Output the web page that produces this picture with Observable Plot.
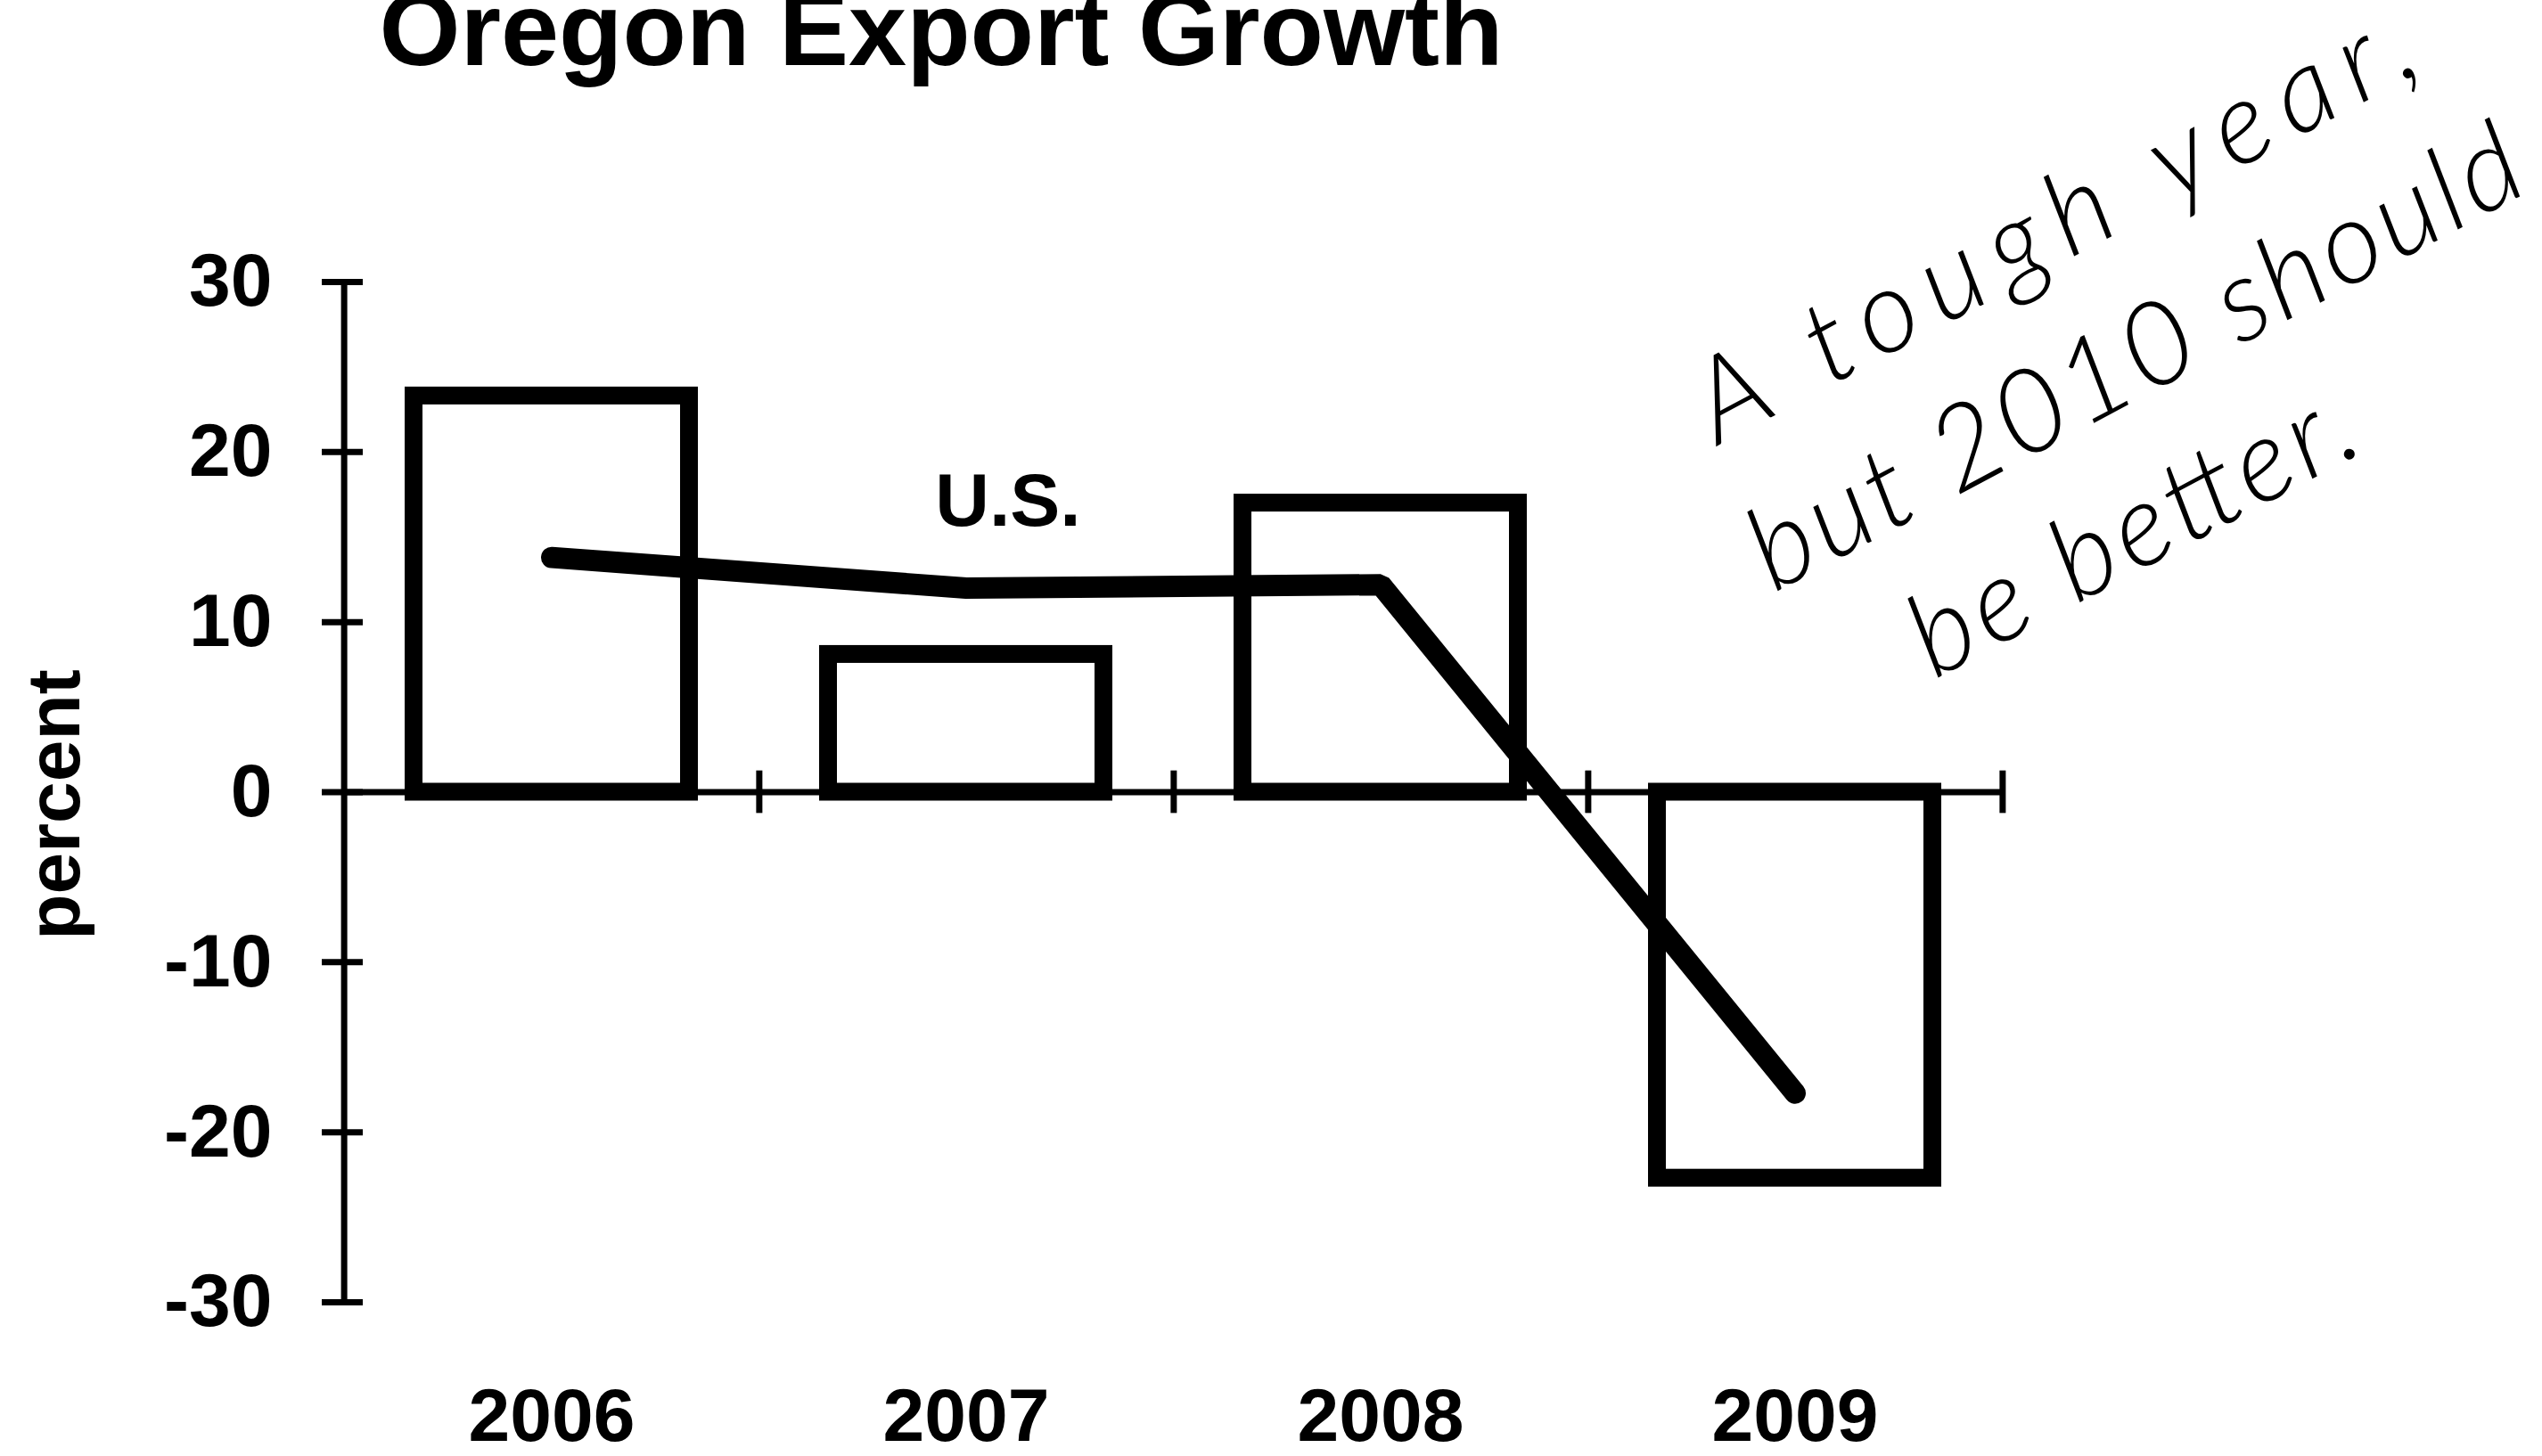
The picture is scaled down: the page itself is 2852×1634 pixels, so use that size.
<!DOCTYPE html>
<html>
<head>
<meta charset="utf-8">
<script src="https://cdn.jsdelivr.net/npm/d3@7"></script>
<script src="https://cdn.jsdelivr.net/npm/@observablehq/plot@0.6"></script>
<style>
  html, body { margin: 0; padding: 0; background: #fff; overflow: hidden; }
  #chart svg { display: block; }
</style>
</head>
<body>
<div id="chart"></div>
<script>
// ---- data ----
const years = ["2006", "2007", "2008", "2009"];
const oregonGrowth = [23.3, 8.1, 17.0, -22.7];
const usGrowth = [13.8, 12.0, 12.2, -17.7];
const yTicks = [30, 20, 10, 0, -10, -20, -30];
const titleText = "Oregon Export Growth";
const yLabel = "percent";
const seriesLabel = "U.S.";
const seriesLabelYear = "2007";
const seriesLabelValue = 17.06;
const noteLines = ["A tough year,", "but 2010 should", "be better."];
const noteYears = ["2009", "2009", "2009"];
const noteValues = [20.4, 11.7, 6.6];

// ---- layout ----
const W = 2852, H = 1634;
const mL = 384, mR = 605, mT = 316, mB = 173;
const band = (W - mL - mR) / years.length;
const half = band / 2;

const rows = years.map((y, i) => ({year: y, oregon: oregonGrowth[i], us: usGrowth[i]}));
const noteDx = [-86, -24, 156];
const noteLength = [897, 963, 549];

const font = "'Liberation Sans', Arial, Helvetica, sans-serif";
const handFont = "Lato, 'DejaVu Sans', sans-serif";

const noteMarks = noteLines.map((t, i) =>
  Plot.text([t], {
    x: () => noteYears[i], y: () => noteValues[i], text: d => d, dx: noteDx[i],
    rotate: -28, textAnchor: "start", lineAnchor: "bottom",
    fontSize: 130, fontStyle: "italic", fontWeight: 300, fontFamily: handFont, fill: "#000"
  })
);

const chart = Plot.plot({
  width: W,
  height: H,
  marginLeft: mL,
  marginRight: mR,
  marginTop: mT,
  marginBottom: mB,
  style: {fontFamily: font, background: "#fff", color: "#000", overflow: "hidden"},
  x: {domain: years, padding: 0, axis: null},
  y: {domain: [d3.min(yTicks), d3.max(yTicks)], axis: null},
  marks: [
    // y axis line
    Plot.ruleX([years[0]], {x: d => d, dx: -half, y1: d3.min(yTicks), y2: d3.max(yTicks), stroke: "#000", strokeWidth: 7}),
    // y tick marks (crossing the axis)
    Plot.axisY({ticks: yTicks, tickSize: 46, dx: 23, fill: "none", stroke: "#000", strokeWidth: 7, label: null, tickFormat: () => ""}),
    // y tick labels
    Plot.axisY({ticks: yTicks, tickSize: 0, tickPadding: 79, tickFormat: d => String(d), fontSize: 84, fontWeight: "bold", fill: "#000", label: null}),
    // zero line (x axis)
    Plot.ruleY([0], {stroke: "#000", strokeWidth: 7}),
    // x ticks at category boundaries
    Plot.ruleX(years, {x: d => d, dx: half, y1: -1.25, y2: 1.25, stroke: "#000", strokeWidth: 7}),
    // x labels
    Plot.axisX({tickSize: 0, tickPadding: 96, fontSize: 84, fontWeight: "bold", fill: "#000", label: null}),
    // Oregon bars (outlined)
    Plot.barY(rows, {x: "year", y: "oregon", fill: "none", stroke: "#000", strokeWidth: 20, insetLeft: 78, insetRight: 78, strokeLinejoin: "miter"}),
    // U.S. line
    Plot.lineY(rows, {x: "year", y: "us", stroke: "#000", strokeWidth: 24, strokeLinecap: "round", strokeLinejoin: "miter"}),
    // U.S. label
    Plot.text([seriesLabel], {x: () => seriesLabelYear, y: () => seriesLabelValue, dx: 47, text: d => d, fontSize: 84, fontWeight: "bold", fill: "#000", lineAnchor: "middle"}),
    // y axis title
    Plot.text([yLabel], {frameAnchor: "left", text: d => d, rotate: -90, dx: -322, dy: 14, textAnchor: "middle", lineAnchor: "middle", fontSize: 84, fontWeight: "bold", fill: "#000"}),
    // chart title
    Plot.text([titleText], {frameAnchor: "top-left", text: d => d, dx: 41, dy: -244, textAnchor: "start", lineAnchor: "bottom", fontSize: 117, fontWeight: "bold", fill: "#000"}),
    // handwritten note
    ...noteMarks
  ]
});

// stretch each handwritten line to the length it spans in the original
chart.querySelectorAll("text").forEach(el => {
  const i = noteLines.indexOf(el.textContent);
  if (i >= 0) {
    el.setAttribute("textLength", noteLength[i]);
    el.setAttribute("lengthAdjust", "spacing");
  }
});

document.getElementById("chart").appendChild(chart);
</script>
</body>
</html>
